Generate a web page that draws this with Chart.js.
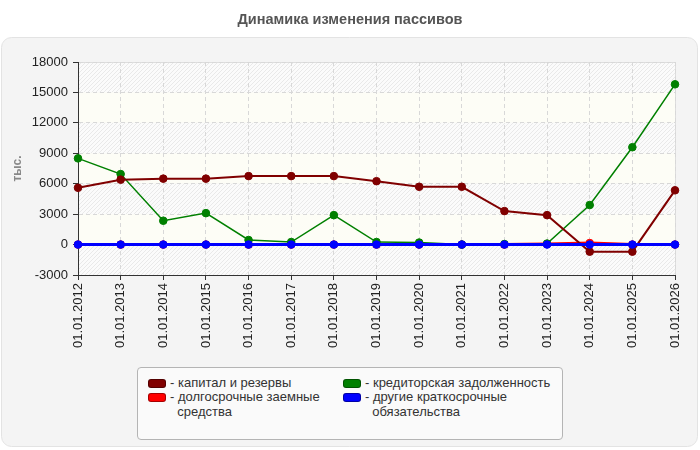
<!DOCTYPE html>
<html>
<head>
<meta charset="utf-8">
<script src="https://cdn.jsdelivr.net/npm/chart.js@4/dist/chart.umd.min.js"></script>
<style>
    html, body { margin: 0; padding: 0; background: #fff; }
    #wrap { position: relative; width: 700px; height: 450px; font-family: "Liberation Sans", Arial, sans-serif; }
    #legend {
        position: absolute; left: 137px; top: 367px; width: 424px; height: 71px;
        background: #fafafa; border: 1px solid #b4b4b4; border-radius: 4px;
        font-size: 13px; color: #333; line-height: 14.5px;
    }
    .item { position: absolute; }
    .item .sw {
        position: absolute; left: 0; top: 3px; width: 16px; height: 7px;
        border-radius: 3px; border: 1px solid rgba(0,0,0,0.35);
    }
    .item .txt { position: absolute; left: 22px; top: 0; white-space: nowrap; }
</style>
</head>
<body>
<div id="wrap">
    <canvas id="passivChart" width="700" height="450"></canvas>
    <div id="legend"></div>
</div>
<script>
// Данные графика
const dates = ['01.01.2012', '01.01.2013', '01.01.2014', '01.01.2015', '01.01.2016',
    '01.01.2017', '01.01.2018', '01.01.2019', '01.01.2020', '01.01.2021',
    '01.01.2022', '01.01.2023', '01.01.2024', '01.01.2025', '01.01.2026'];
const capital = [5600, 6400, 6500, 6500, 6750, 6750, 6750, 6250, 5700, 5700, 3300, 2900, -700, -700, 5350];
const longTerm = [0, 0, 0, 0, 0, 0, 0, 0, 0, 0, 0, 50, 150, 0, 0];
const payables = [8500, 6950, 2350, 3100, 450, 250, 2900, 250, 200, 0, 50, 100, 3900, 9600, 15800];
const otherShort = [0, 0, 0, 0, 0, 0, 0, 0, 0, 0, 0, 0, 0, 0, 0];
const yMin = -3000, yMax = 18000, yStep = 3000;

const seriesNames = ['капитал и резервы', 'долгосрочные заемные\nсредства', 'кредиторская задолженность', 'другие краткосрочные\nобязательства'];
const seriesColors = ['#800000', '#ff0000', '#008000', '#0000ff'];

const fontFam = '"Liberation Sans", Arial, sans-serif';

// Полоски фона (штриховка через одну)
function makeHatch(ctx) {
    const c = document.createElement('canvas');
    c.width = 4; c.height = 4;
    const h = c.getContext('2d');
    h.fillStyle = '#fbfbfb';
    h.fillRect(0, 0, 4, 4);
    h.strokeStyle = '#e9e9e9';
    h.lineWidth = 1;
    h.beginPath();
    h.moveTo(0, 4); h.lineTo(4, 0);
    h.moveTo(-1, 1); h.lineTo(1, -1);
    h.moveTo(3, 5); h.lineTo(5, 3);
    h.stroke();
    return ctx.createPattern(c, 'repeat');
}

const backdrop = {
    id: 'backdrop',
    beforeDraw(chart) {
        const ctx = chart.ctx;
        const area = chart.chartArea;
        const y = chart.scales.y;
        ctx.save();
        // панель
        ctx.fillStyle = '#f4f4f4';
        ctx.strokeStyle = '#e3e3e3';
        ctx.lineWidth = 1;
        ctx.beginPath();
        ctx.roundRect(1.5, 37.5, 696, 409, 10);
        ctx.fill();
        ctx.stroke();
        // заголовок
        ctx.fillStyle = '#555';
        ctx.font = 'bold 14.5px ' + fontFam;
        ctx.textAlign = 'center';
        ctx.textBaseline = 'middle';
        ctx.fillText('Динамика изменения пассивов', 350, 20);
        // полосы
        const hatch = makeHatch(ctx);
        let idx = 0;
        for (let v = yMax; v > yMin; v -= yStep) {
            const top = y.getPixelForValue(v);
            const bot = y.getPixelForValue(v - yStep);
            ctx.fillStyle = idx % 2 === 0 ? hatch : '#fdfdf6';
            ctx.fillRect(area.left, top, area.right - area.left, bot - top);
            idx++;
        }
        ctx.strokeStyle = '#dddddd';
        ctx.strokeRect(area.left + 0.5, area.top + 0.5, area.right - area.left, area.bottom - area.top);
        ctx.restore();
    }
};

function line(label, data, color, width, radius, order) {
    return {
        label: label,
        data: data,
        borderColor: color,
        backgroundColor: color,
        borderWidth: width,
        pointBackgroundColor: color,
        pointBorderColor: color,
        pointRadius: radius,
        pointBorderWidth: 1,
        tension: 0,
        fill: false,
        order: order
    };
}

const ctx = document.getElementById('passivChart');
new Chart(ctx, {
    type: 'line',
    data: {
        labels: dates,
        datasets: [
            line(seriesNames[0], capital, seriesColors[0], 2, 3.8, 1),
            line(seriesNames[1], longTerm, seriesColors[1], 3, 3.8, 3),
            line(seriesNames[2], payables, seriesColors[2], 1.5, 3.8, 2),
            line(seriesNames[3], otherShort, seriesColors[3], 3, 3.8, 0)
        ]
    },
    options: {
        responsive: false,
        animation: false,
        devicePixelRatio: 1,
        layout: { padding: { top: 62, left: 0, right: 25, bottom: 95 } },
        plugins: {
            legend: { display: false },
            tooltip: { enabled: false },
            title: { display: false }
        },
        scales: {
            x: {
                grid: { color: '#d8d8d8', tickColor: '#333', tickLength: 5, tickBorderDash: [] },
                border: { color: '#333', width: 1, dash: [4, 3] },
                ticks: {
                    color: '#222',
                    font: { size: 13, family: fontFam },
                    maxRotation: 90, minRotation: 90, autoSkip: false, padding: 3
                },
                afterFit(scale) { scale.height = 80; }
            },
            y: {
                min: yMin, max: yMax,
                grid: { color: '#d8d8d8', tickColor: '#333', tickLength: 5, tickBorderDash: [] },
                border: { color: '#333', width: 1, dash: [4, 3] },
                ticks: {
                    stepSize: yStep,
                    color: '#222',
                    font: { size: 13, family: fontFam },
                    padding: 5,
                    callback: (v) => String(v)
                },
                title: {
                    display: true,
                    text: 'тыс.',
                    color: '#888',
                    font: { size: 12, weight: 'bold', family: fontFam },
                    padding: { top: 10, bottom: 0 }
                },
                afterFit(scale) { scale.width = 78; }
            }
        }
    },
    plugins: [backdrop]
});

// Легенда
const legendBox = document.getElementById('legend');
const legendPos = [[10, 8], [10, 22], [205, 8], [205, 22]];
seriesNames.forEach((name, i) => {
    const item = document.createElement('div');
    item.className = 'item';
    item.style.left = legendPos[i][0] + 'px';
    item.style.top = legendPos[i][1] + 'px';
    item.innerHTML = '<span class="sw" style="background:' + seriesColors[i] + '"></span>'
        + '<span class="txt">- ' + name.replace('\n', '<br>&nbsp;&nbsp;') + '</span>';
    legendBox.appendChild(item);
});
</script>
</body>
</html>
